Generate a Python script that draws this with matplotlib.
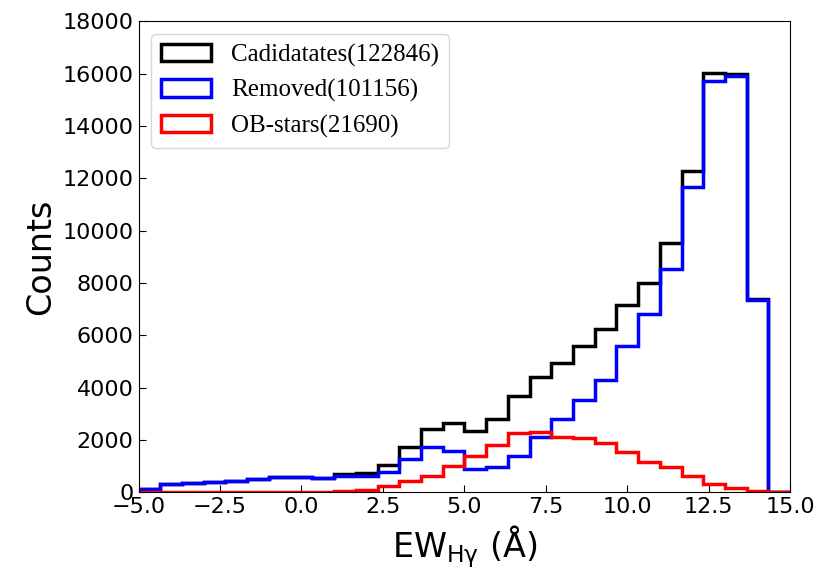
import matplotlib
matplotlib.use('Agg')
import matplotlib.pyplot as plt
import numpy as np

# 30 bins of width 2/3 between -5 and 15
bin_edges = np.linspace(-5, 15, 31)

candidates = [140, 330, 365, 400, 450, 515, 595, 600, 570,
              713, 763, 1057, 1755, 2440, 2647, 2354, 2800, 3690,
              4426, 4937, 5609, 6234, 7161, 8013, 9538, 12274,
              16025, 15987, 7390, 10]
removed = [130, 320, 358, 396, 446, 510, 587, 587, 555,
           626, 640, 779, 1286, 1755, 1591, 893, 969, 1412,
           2137, 2812, 3537, 4300, 5609, 6818, 8547, 11652,
           15719, 15898, 7352, 0]
ob_stars = [2, 3, 3, 4, 5, 6, 8, 10, 15,
            38, 100, 229, 420, 620, 1030, 1412, 1820, 2266,
            2304, 2137, 2075, 1908, 1564, 1160, 969, 637,
            332, 168, 38, 10]

labels = ['Cadidatates(122846)', 'Removed(101156)', 'OB-stars(21690)']
colors = ['black', 'blue', 'red']

centers = 0.5 * (bin_edges[:-1] + bin_edges[1:])

fig = plt.figure(figsize=(8.3, 5.87), dpi=100)
ax = fig.add_axes([0.167, 0.161, 0.785, 0.803])

for counts, label, color in zip([candidates, removed, ob_stars], labels, colors):
    ax.hist(centers, bins=bin_edges, weights=counts, histtype='step',
            color=color, linewidth=2.5, label=label)

ax.set_xlim(-5, 15)
ax.set_ylim(0, 18000)
ax.set_yticks(np.arange(0, 18001, 2000))
ax.tick_params(direction='in', labelsize=16, length=5)
ax.set_xlabel(r'$\mathrm{EW_{H\gamma}}$ (Å)', fontsize=24)
ax.set_ylabel('Counts', fontsize=24)

ax.legend(loc='upper left', prop={'family': 'Liberation Serif', 'size': 18})

fig.savefig('out.png', dpi=100)
